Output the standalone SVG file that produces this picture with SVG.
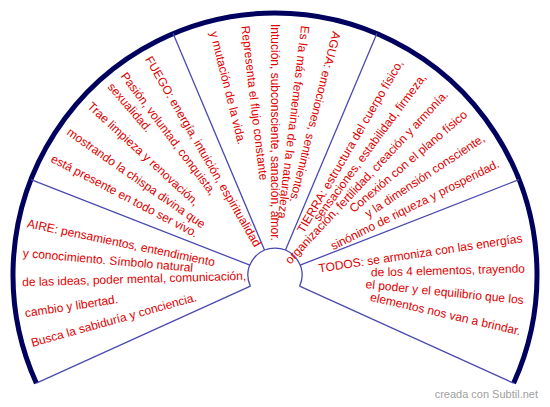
<svg xmlns="http://www.w3.org/2000/svg" width="550" height="407" viewBox="0 0 550 407">
<style>
.t{font-family:"Liberation Sans",Arial,sans-serif;font-size:12px;fill:#e00000}
.r{text-anchor:end}
.sep{stroke:#4a4ab0;stroke-width:1.3;fill:none}
.rim{stroke:#00005e;stroke-width:5;fill:none}
.foot{font-family:"Liberation Sans",Arial,sans-serif;font-size:11px;fill:#a0a0a0}
</style>
<rect width="550" height="407" fill="#fff"/>
<g id="connectors">
<path class="rim" d="M36.4,383.2 A262,262 0 1 1 513.6,383.2"/>
<path class="sep" d="M250.4,286.2 A27,27 0 1 1 299.6,286.2"/>
<line class="sep" x1="36.4" y1="383.2" x2="250.4" y2="286.2"/>
<line class="sep" x1="31.0" y1="179.6" x2="249.9" y2="265.2"/>
<line class="sep" x1="173.1" y1="33.6" x2="264.5" y2="250.1"/>
<line class="sep" x1="376.9" y1="33.6" x2="285.5" y2="250.1"/>
<line class="sep" x1="519.0" y1="179.6" x2="300.1" y2="265.2"/>
<line class="sep" x1="513.6" y1="383.2" x2="299.6" y2="286.2"/>
</g>
<g id="aire">
<text class="t" x="22" y="279" transform="rotate(11.8 275 275)">AIRE: pensamientos, entendimiento</text>
<text class="t" x="22" y="279" transform="rotate(5 275 275)">y conocimiento. Símbolo natural</text>
<text class="t" x="22" y="279" transform="rotate(-1.65 275 275)">de las ideas, poder mental, comunicación,</text>
<text class="t" x="22" y="279" transform="rotate(-8.7 275 275)">cambio y libertad.</text>
<text class="t" x="22" y="279" transform="rotate(-15.6 275 275)">Busca la sabiduría y conciencia.</text>
</g>
<g id="fuego">
<text class="t" x="23" y="279" transform="rotate(59.8 275 275)">FUEGO: energía, intuición, espiritualidad</text>
<text class="t" x="23" y="279" transform="rotate(53 275 275)">Pasión, voluntad, conquista,</text>
<text class="t" x="23" y="279" transform="rotate(49.1 275 275)">sexualidad.</text>
<text class="t" x="23" y="279" transform="rotate(42.6 275 275)">Trae limpieza y renovación,</text>
<text class="t" x="23" y="279" transform="rotate(34.9 275 275)">mostrando la chispa divina que</text>
<text class="t" x="23" y="279" transform="rotate(27.7 275 275)">está presente en todo ser vivo.</text>
</g>
<g id="agua">
<text class="t" x="24" y="279" transform="rotate(104.2 275 275)">AGUA: emociones, sentimientos.</text>
<text class="t" x="24" y="279" transform="rotate(96.9 275 275)">Es la más femenina de la naturaleza.</text>
<text class="t" x="24" y="279" transform="rotate(90 275 275)">Intución, subconsciente, sanación, amor.</text>
<text class="t" x="24" y="279" transform="rotate(83.2 275 275)">Representa el flujo constante</text>
<text class="t" x="24" y="279" transform="rotate(75.9 275 275)">y mutación de la vida.</text>
</g>
<g id="tierra">
<text class="t r" x="523" y="279" transform="rotate(-59.7 275 275)">TIERRA: estructura del cuerpo físico,</text>
<text class="t r" x="524" y="279" transform="rotate(-53.4 275 275)">sensaciones,  estabilidad, firmeza,</text>
<text class="t r" x="525" y="279" transform="rotate(-46.9 275 275)">organización, fertilidad, creación y armonía.</text>
<text class="t r" x="525" y="279" transform="rotate(-40.4 275 275)">Conexión con el plano físico</text>
<text class="t r" x="525" y="279" transform="rotate(-33.5 275 275)">y la dimensión consciente,</text>
<text class="t r" x="525" y="279" transform="rotate(-26.6 275 275)">sinónimo de riqueza y prosperidad.</text>
</g>
<g id="todos">
<text class="t r" x="525" y="279" transform="rotate(-8.5 275 275)">TODOS: se armoniza con las energías</text>
<text class="t r" x="525" y="279" transform="rotate(-1.5 275 275)">de los 4 elementos, trayendo</text>
<text class="t r" x="525" y="279" transform="rotate(5.75 275 275)">el poder y el equilibrio que los</text>
<text class="t r" x="527" y="279" transform="rotate(12.9 275 275)">elementos nos van a brindar.</text>
</g>
<text class="foot" x="538" y="398" text-anchor="end">creada con Subtil.net</text>
</svg>
